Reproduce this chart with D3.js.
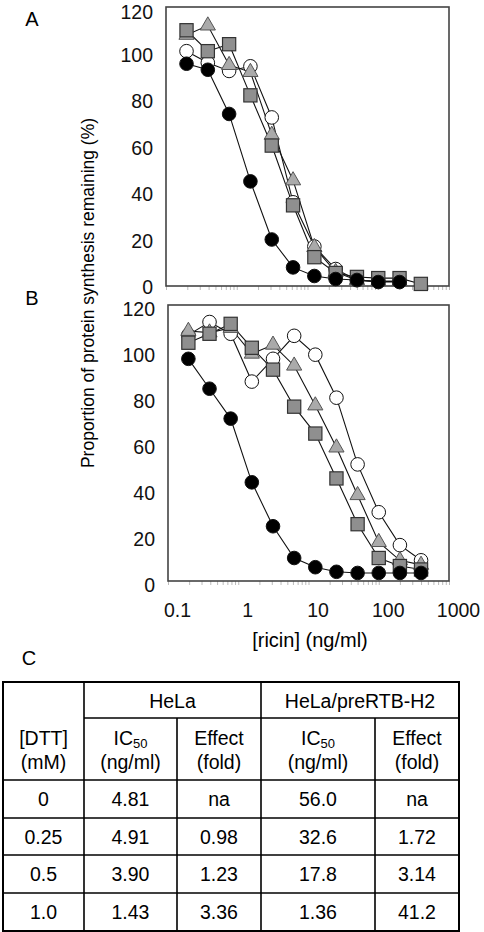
<!DOCTYPE html>
<html><head><meta charset="utf-8">
<script src="https://cdn.jsdelivr.net/npm/d3@7"></script>
<style>
html,body{margin:0;padding:0;background:#fff;}
svg{display:block;font-family:"Liberation Sans",Arial,sans-serif;}
</style></head>
<body>
<svg id="c" width="484" height="932"></svg>
<script>
// ---- data ----
const conc = [0.195, 0.39, 0.78, 1.56, 3.125, 6.25, 12.5, 25, 50, 100, 200, 400];
const xTicks = [0.1, 1, 10, 100, 1000];
const xTickLabels = ["0.1", "1", "10", "100", "1000"];
const yTicks = [0, 20, 40, 60, 80, 100, 120];

// Panel A
const aOpen   = [101, 96, 92.5, 94.5, 72.5, 36, 17, 7.3, 2.5, 2, 2, null];
const aTri    = [108, 112, 95, 92, 65, 45.4, 16.7, 6, 2.5, 2, 2, null];
const aSquare = [110, 101, 104, 82, 60.4, 34.7, 12.4, 5.6, 3.9, 3.4, 3.4, 0.9];
const aBlack  = [95.6, 93, 74, 45, 20, 8, 4.3, 3, 2.6, 1.7, 1.7, null];

// Panel B
const bOpen   = [107, 112.6, 107.5, 86.7, 96.6, 106.6, 98.4, 79.7, 50.7, 29.9, 15.6, 9];
const bTri    = [108.7, 108, 110, 98.8, 102.7, 93.6, 76.3, 58, 37.3, 16.9, 9, 7];
const bSquare = [103.6, 107.5, 111.8, 101.4, 91.9, 75.8, 64.1, 44.6, 24.7, 10, 6.5, 5];
const bBlack  = [96.6, 83.6, 70.6, 42.9, 23.8, 10, 6, 4, 3.5, 3.5, 3.5, 3.5];

// Table C
const dttValues   = ["0", "0.25", "0.5", "1.0"];
const helaIC50    = ["4.81", "4.91", "3.90", "1.43"];
const helaEffect  = ["na", "0.98", "1.23", "3.36"];
const rtbIC50     = ["56.0", "32.6", "17.8", "1.36"];
const rtbEffect   = ["na", "1.72", "3.14", "41.2"];

// ---- drawing ----
const svg = d3.select("#c");
const FS = 19.5;
const FF = '"Liberation Sans",Arial,sans-serif';

function panel(left, right, top, bottom, series, showXLabels, yDy, topDy) {
  const x = d3.scaleLog().domain([0.1, 1000]).range([left, right]);
  const y = d3.scaleLinear().domain([0, 120]).range([bottom, top]);
  const g = svg.append("g");

  // minor ticks on x axis
  const minor = [];
  for (let e = -1; e < 3; e++) for (let m = 1; m < 10; m++) minor.push(m * Math.pow(10, e));
  minor.push(1000);
  const xa = g.append("g").attr("transform", `translate(0,${bottom})`)
    .call(d3.axisBottom(x).tickValues(minor).tickSize(4).tickFormat(""));
  xa.select(".domain").remove();
  xa.selectAll("line").attr("stroke", "#bbb").attr("stroke-width", 1);

  if (showXLabels) {
    const xl = g.append("g").attr("transform", `translate(0,${bottom})`)
      .call(d3.axisBottom(x).tickValues(xTicks).tickSize(0).tickPadding(22)
        .tickFormat((d, i) => xTickLabels[i]));
    xl.select(".domain").remove();
    xl.selectAll("text").attr("font-size", FS).attr("fill", "#111")
      .attr("font-family", FF).attr("dx", 9);
  }

  const ya = g.append("g").attr("transform", `translate(${left},0)`)
    .call(d3.axisLeft(y).tickValues(yTicks).tickSize(0).tickPadding(13));
  ya.select(".domain").remove();
  ya.selectAll("text").attr("font-size", FS).attr("fill", "#111")
    .attr("font-family", FF).attr("dy", d => d === 120 ? topDy : yDy);

  // frame
  g.append("rect").attr("x", left).attr("y", top)
    .attr("width", right - left).attr("height", bottom - top)
    .attr("fill", "none").attr("stroke", "#444").attr("stroke-width", 1.6);

  const line = d3.line().defined(d => d.v != null)
    .x(d => x(d.c)).y(d => y(d.v));

  series.forEach(s => {
    const pts = conc.map((c, i) => ({ c, v: s.vals[i] }));
    g.append("path").datum(pts).attr("d", line)
      .attr("fill", "none").attr("stroke", "#111").attr("stroke-width", 1.1);
  });
  series.forEach(s => {
    const pts = conc.map((c, i) => ({ c, v: s.vals[i] })).filter(d => d.v != null);
    const mg = g.append("g");
    pts.forEach(d => {
      const cx = x(d.c), cy = y(d.v);
      if (s.shape === "circle") {
        mg.append("circle").attr("cx", cx).attr("cy", cy).attr("r", 6.8)
          .attr("fill", s.fill).attr("stroke", "#111").attr("stroke-width", 1);
      } else if (s.shape === "square") {
        mg.append("rect").attr("x", cx - 6.6).attr("y", cy - 6.6)
          .attr("width", 13.2).attr("height", 13.2)
          .attr("fill", s.fill).attr("stroke", "#333").attr("stroke-width", 1.2);
      } else {
        const sym = d3.symbol().type(d3.symbolTriangle).size(100);
        mg.append("path").attr("d", sym()).attr("transform", `translate(${cx},${cy})`)
          .attr("fill", s.fill).attr("stroke", "#555").attr("stroke-width", 1);
      }
    });
  });
}

panel(166, 449, 7, 286, [
  { vals: aOpen, shape: "circle", fill: "#fff" },
  { vals: aTri, shape: "triangle", fill: "#aaa" },
  { vals: aSquare, shape: "square", fill: "#8f8f8f" },
  { vals: aBlack, shape: "circle", fill: "#000" }
], false, "0.4em", "0.6em");

panel(168, 449, 305, 581, [
  { vals: bOpen, shape: "circle", fill: "#fff" },
  { vals: bTri, shape: "triangle", fill: "#aaa" },
  { vals: bSquare, shape: "square", fill: "#8f8f8f" },
  { vals: bBlack, shape: "circle", fill: "#000" }
], true, "0.55em", "0.55em");

// panel letters and axis titles
svg.append("text").attr("x", 32).attr("y", 26).attr("text-anchor", "middle")
  .attr("font-size", 20).text("A");
svg.append("text").attr("x", 32).attr("y", 305).attr("text-anchor", "middle")
  .attr("font-size", 20).text("B");
svg.append("text").attr("x", 29).attr("y", 665).attr("text-anchor", "middle")
  .attr("font-size", 20).text("C");
svg.append("text").attr("transform", "translate(94,293) rotate(-90)")
  .attr("text-anchor", "middle").attr("font-size", 17.5)
  .text("Proportion of protein synthesis remaining (%)");
svg.append("text").attr("x", 310).attr("y", 647).attr("text-anchor", "middle")
  .attr("font-size", 20).text("[ricin] (ng/ml)");

// ---- table C ----
const colX = [3, 84, 177, 261, 375, 459];
const rowY = [682, 718, 780, 818, 855, 893, 931];
const tg = svg.append("g");
const cellCenter = i => (colX[i] + colX[i + 1]) / 2;
const rowCenter = r => (rowY[r] + rowY[r + 1]) / 2;

// grid lines
tg.append("rect").attr("x", colX[0]).attr("y", rowY[0])
  .attr("width", colX[5] - colX[0]).attr("height", rowY[6] - rowY[0])
  .attr("fill", "none").attr("stroke", "#000").attr("stroke-width", 2);
rowY.slice(1, 6).forEach((ry, i) => {
  tg.append("line").attr("x1", i === 0 ? colX[1] : colX[0]).attr("x2", colX[5])
    .attr("y1", ry).attr("y2", ry).attr("stroke", "#000").attr("stroke-width", 1.6);
});
[1, 3].forEach(ci => tg.append("line").attr("x1", colX[ci]).attr("x2", colX[ci])
  .attr("y1", rowY[0]).attr("y2", rowY[6]).attr("stroke", "#000").attr("stroke-width", 1.6));
[2, 4].forEach(ci => tg.append("line").attr("x1", colX[ci]).attr("x2", colX[ci])
  .attr("y1", rowY[1]).attr("y2", rowY[6]).attr("stroke", "#000").attr("stroke-width", 1.6));

function cellText(xc, yc, txt) {
  tg.append("text").attr("x", xc).attr("y", yc).attr("text-anchor", "middle")
    .attr("dominant-baseline", "central").attr("font-size", FS).text(txt);
}
cellText((colX[1] + colX[3]) / 2, rowCenter(0) + 1, "HeLa");
cellText((colX[3] + colX[5]) / 2, rowCenter(0) + 1, "HeLa/preRTB-H2");

function twoLine(ci, l1, l2, sub) {
  const xc = cellCenter(ci), yc = rowCenter(1);
  const t = tg.append("text").attr("x", xc).attr("y", yc - 11).attr("text-anchor", "middle")
    .attr("dominant-baseline", "central").attr("font-size", FS);
  t.append("tspan").text(l1);
  if (sub) t.append("tspan").attr("font-size", 13).attr("dy", 5).text(sub);
  cellText(xc, yc + 13, l2);
}
twoLine(0, "[DTT]", "(mM)");
twoLine(1, "IC", "(ng/ml)", "50");
twoLine(2, "Effect", "(fold)");
twoLine(3, "IC", "(ng/ml)", "50");
twoLine(4, "Effect", "(fold)");

const cols = [dttValues, helaIC50, helaEffect, rtbIC50, rtbEffect];
cols.forEach((arr, ci) => arr.forEach((v, ri) => cellText(cellCenter(ci), rowCenter(ri + 2), v)));
</script>
</body></html>
